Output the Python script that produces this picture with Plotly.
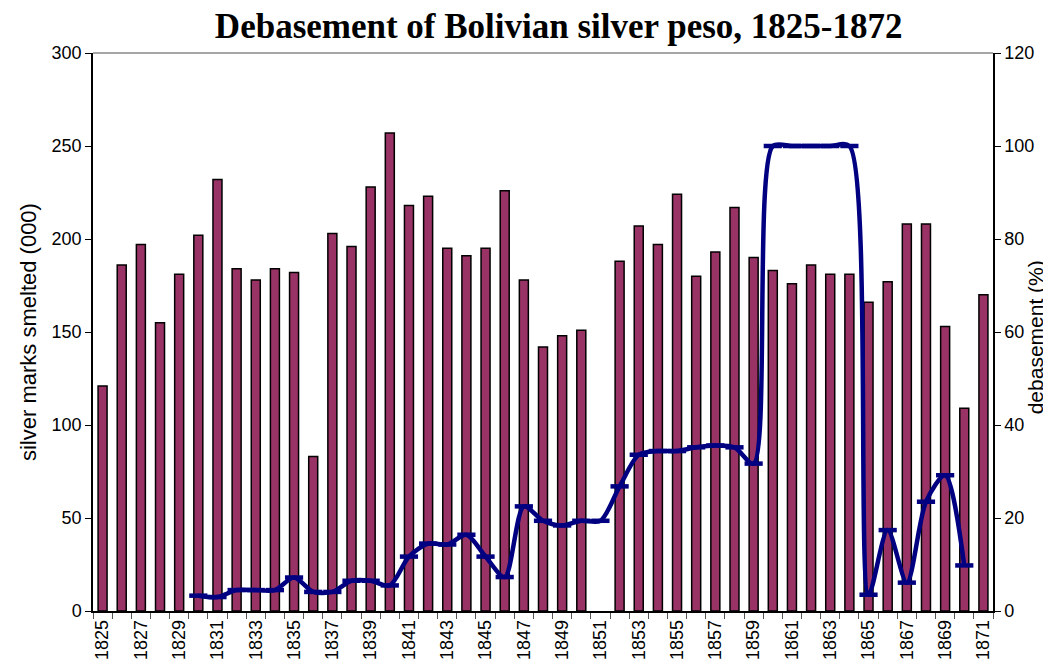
import plotly.graph_objects as go

years = list(range(1825, 1872))
silver_marks = [121, 186, 197, 155, 181, 202, 232, 184, 178, 184,
                182, 83, 203, 196, 228, 257, 218, 223, 195, 191,
                195, 226, 178, 142, 148, 151, None, 188, 207, 197,
                224, 180, 193, 217, 190, 183, 176, 186, 181, 181,
                166, 177, 208, 208, 153, 109, 170]

deb_years = list(range(1830, 1871))
debasement = [3.3, 3.0, 4.5, 4.5, 4.5, 7.2, 4.1, 4.1, 6.5, 6.5,
              5.5, 11.7, 14.5, 14.3, 16.4, 11.7, 7.3, 22.5, 19.4, 18.4,
              19.4, 19.4, 26.8, 33.6, 34.4, 34.4, 35.2, 35.6, 35.2, 31.7,
              100, 100, 100, 100, 100, 3.5, 17.4, 6.1, 23.5, 29.2, 9.8]

tick_years = list(range(1825, 1872, 2))

fig = go.Figure()
fig.add_trace(go.Bar(
    x=years, y=silver_marks, width=0.47,
    marker=dict(color="#993366", line=dict(color="black", width=1.5)),
    yaxis="y", showlegend=False))
fig.add_trace(go.Scatter(
    x=deb_years, y=debasement, yaxis="y2", mode="lines+markers",
    line=dict(color="#000080", width=4.5, shape="spline", smoothing=0.8),
    marker=dict(symbol="line-ew", size=13, line=dict(color="#000080", width=4.5)),
    showlegend=False))

axis_font = dict(family="Liberation Sans, Arial", size=18, color="black")
left_title_font = dict(family="Liberation Sans, Arial", size=22, color="black")
right_title_font = dict(family="Liberation Sans, Arial", size=21, color="black")
fig.update_layout(
    width=1043, height=660,
    margin=dict(l=85, r=58, t=45, b=57),
    paper_bgcolor="white", plot_bgcolor="white",
    title=dict(text="<b>Debasement of Bolivian silver peso, 1825-1872</b>",
               x=0.528, xanchor="center", y=0.973, yanchor="middle",
               font=dict(family="Liberation Serif, Times New Roman", size=35, color="black")),
    xaxis=dict(range=[1824.5, 1871.5], tickvals=tick_years,
               ticktext=[str(y) for y in tick_years], tickangle=-90,
               tickfont=dict(family="Liberation Sans, Arial", size=18, color="black"),
               showline=True, linecolor="black", linewidth=1.5,
               ticks="", showgrid=False, zeroline=False, automargin=False,
               minor=dict(ticks="outside", tick0=1824.5, dtick=1, ticklen=6,
                          tickcolor="#555", tickwidth=1, showgrid=False)),
    yaxis=dict(range=[0, 300], dtick=50, tickfont=axis_font,
               showline=True, linecolor="black", linewidth=1.5,
               ticks="outside", ticklen=6, tickcolor="black",
               showgrid=False, zeroline=False, automargin=False),
    yaxis2=dict(range=[0, 120], dtick=20, overlaying="y", side="right",
                tickfont=axis_font,
                showline=True, linecolor="black", linewidth=1.5,
                ticks="outside", ticklen=6, tickcolor="black",
                showgrid=False, zeroline=False, automargin=False),
    shapes=[dict(type="line", xref="paper", yref="paper", x0=0, x1=1, y0=1, y1=1,
                 line=dict(color="#888888", width=1.5))],
    annotations=[
        dict(text="silver marks smelted (000)", xref="paper", yref="paper",
             x=-0.0722, y=0.5, xanchor="center", yanchor="middle",
             textangle=-90, showarrow=False, font=left_title_font),
        dict(text="debasement (%)", xref="paper", yref="paper",
             x=1.0475, y=0.49, xanchor="center", yanchor="middle",
             textangle=-90, showarrow=False, font=right_title_font),
    ],
)

fig.write_html("out.html")
